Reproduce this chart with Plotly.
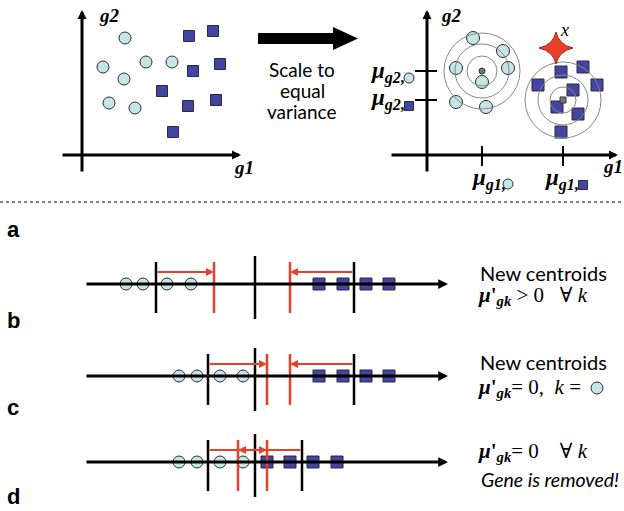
import plotly.graph_objects as go

# ---------------- data ----------------
# panel a, before scaling (left plot)
circ_a_x = [125, 103, 146, 172, 124, 109, 135]
circ_a_y = [38, 67, 62, 62, 79, 103, 108]
sq_a_x = [189, 213, 193, 220, 162, 188, 216, 173]
sq_a_y = [36, 31, 71, 64, 91, 106, 100, 132]
# panel a, after scaling (right plot)
circ_s_x = [473, 503, 456, 508, 482, 456, 486]
circ_s_y = [38, 51, 68, 68, 82, 102, 107]
sq_s_x = [561, 583, 538, 597, 573, 557, 578, 561]
sq_s_y = [72, 67, 85, 85, 90, 107, 114, 132]
centroid_circ = (482, 71)
centroid_sq = (563, 100)
rings_circ = [15, 27, 38]
rings_sq = [13, 25, 38]
star_xy = (556, 48)

# panels b, c, d (1-D gene axis)
row_y = [284, 376, 462]
row_circ = [[126, 143, 167, 191], [179, 197, 220, 243], [179, 197, 220, 243]]
row_sq = [[319, 343, 366, 389], [319, 343, 366, 389], [267, 290, 313, 337]]
row_black = [[156, 255, 354], [208, 255, 354], [208, 255, 302]]
row_red = [[214, 290], [267, 290], [238, 267]]
row_arrows = [[(156, 214), (354, 290)], [(208, 267), (354, 290)], [(208, 267), (302, 238)]]
panel_labels = ["a", "b", "c", "d"]
panel_label_y = [229, 320, 407, 496]

CIRC_FILL = "#c6e6e6"
SQ_FILL = "#4444a4"
EDGE = "#2a2a3a"
RED = "#e8402a"
SERIF = "Liberation Serif, DejaVu Serif, serif"
SANS = "Lato, Open Sans, sans-serif"

fig = go.Figure()
shapes = []
ann = []


def arrow(x0, y0, x1, y1, color="black", width=3, size=0.6):
    ann.append(dict(x=x1, y=y1, ax=x0, ay=y0, xref="x", yref="y", axref="x", ayref="y",
                    text="", showarrow=True, arrowhead=2, arrowsize=size,
                    arrowwidth=width, arrowcolor=color, standoff=0, startstandoff=0))


def line(x0, y0, x1, y1, color="black", width=2, dash=None):
    d = dict(type="line", x0=x0, y0=y0, x1=x1, y1=y1, xref="x", yref="y",
             line=dict(color=color, width=width))
    if dash:
        d["line"]["dash"] = dash
    shapes.append(d)


def text(x, y, s, size=16, family=SANS, color="black", xanchor="left", yanchor="middle"):
    ann.append(dict(x=x, y=y, xref="x", yref="y", text=s, showarrow=False,
                    font=dict(size=size, family=family, color=color),
                    xanchor=xanchor, yanchor=yanchor))


def circles(xs, ys, size=12):
    fig.add_trace(go.Scatter(x=xs, y=ys, mode="markers", hoverinfo="skip",
                             marker=dict(symbol="circle", size=size, color=CIRC_FILL,
                                         line=dict(color=EDGE, width=1))))


def squares(xs, ys, size=11):
    fig.add_trace(go.Scatter(x=xs, y=ys, mode="markers", hoverinfo="skip",
                             marker=dict(symbol="square", size=size, color=SQ_FILL,
                                         line=dict(color=EDGE, width=1))))


# ---------- panel a left ----------
arrow(82, 173, 82, 10)
arrow(61, 155, 241, 155)
text(97, 15, "<b><i>g2</i></b>", 19, SERIF)
text(232, 167, "<b><i>g1</i></b>", 19, SERIF)
circles(circ_a_x, circ_a_y)
squares(sq_a_x, sq_a_y)

# big arrow
shapes.append(dict(type="path", xref="x", yref="y",
                   path="M258,33 L333,33 L333,27 L358,38.5 L333,50 L333,44 L258,44 Z",
                   fillcolor="black", line=dict(color="black", width=0)))
text(302, 69, "Scale to", 19, SANS, xanchor="center")
text(302, 90, "equal", 19, SANS, xanchor="center")
text(302, 111, "variance", 19, SANS, xanchor="center")

# ---------- panel a right ----------
arrow(427, 173, 427, 10)
arrow(390, 155, 618, 155)
text(439, 15, "<b><i>g2</i></b>", 19, SERIF)
text(601, 166, "<b><i>g1</i></b>", 19, SERIF)
for r in rings_circ:
    shapes.append(dict(type="circle", xref="x", yref="y",
                       x0=centroid_circ[0] - r, x1=centroid_circ[0] + r,
                       y0=centroid_circ[1] - r, y1=centroid_circ[1] + r,
                       line=dict(color="#888888", width=1)))
for r in rings_sq:
    shapes.append(dict(type="circle", xref="x", yref="y",
                       x0=centroid_sq[0] - r, x1=centroid_sq[0] + r,
                       y0=centroid_sq[1] - r, y1=centroid_sq[1] + r,
                       line=dict(color="#888888", width=1)))
# ticks at centroids
line(415, centroid_circ[1], 437, centroid_circ[1], width=2)
line(415, centroid_sq[1], 437, centroid_sq[1], width=2)
line(centroid_circ[0], 146, centroid_circ[0], 166, width=2)
line(centroid_sq[0], 146, centroid_sq[0], 166, width=2)
circles(circ_s_x, circ_s_y, 13)
squares(sq_s_x, sq_s_y, 12)
fig.add_trace(go.Scatter(x=[centroid_circ[0]], y=[centroid_circ[1]], mode="markers", hoverinfo="skip",
                         marker=dict(symbol="circle", size=6, color="#777777", line=dict(color="#333", width=1))))
fig.add_trace(go.Scatter(x=[centroid_sq[0]], y=[centroid_sq[1]], mode="markers", hoverinfo="skip",
                         marker=dict(symbol="square", size=6, color="#777777", line=dict(color="#333", width=1))))
# star (point x)
sx, sy = star_xy
shapes.append(dict(type="path", xref="x", yref="y",
                   path=(f"M{sx},{sy-16} Q{sx+3},{sy-3} {sx+17},{sy} Q{sx+3},{sy+3} {sx},{sy+16} "
                         f"Q{sx-3},{sy+3} {sx-17},{sy} Q{sx-3},{sy-3} {sx},{sy-16} Z"),
                   fillcolor=RED, line=dict(color="#a82010", width=1)))
text(558, 30, "<i>x</i>", 18, SERIF)

# mu labels
MU_G2 = "<b><i>μ</i></b><sub><b><i>g2,</i></b></sub>"
MU_G1 = "<b><i>μ</i></b><sub><b><i>g1,</i></b></sub>"
text(369, 72, MU_G2, 23, SERIF)
text(369, 99, MU_G2, 23, SERIF)
text(470, 179, MU_G1, 23, SERIF)
text(543, 179, MU_G1, 23, SERIF)
circles([409, 508], [78, 184], 10)
squares([409, 583], [106, 185], 9)

# dotted separator
line(0, 202, 624, 202, color="#555555", width=1.5, dash="dot")

# panel letters
for lab, yy in zip(panel_labels, panel_label_y):
    text(5, yy, f"<b>{lab}</b>", 22, "Liberation Sans, Arial, sans-serif")

# ---------- panels b, c, d ----------
for i, y in enumerate(row_y):
    arrow(85, y, 448, y, width=3, size=0.65)
    for j, bx in enumerate(row_black[i]):
        if j == 1:
            line(bx, y - 28, bx, y + 35, width=2.5)
        else:
            line(bx, y - 22, bx, y + 29, width=2.5)
    for rx in row_red[i]:
        line(rx, y - 22, rx, y + 29, color=RED, width=2.5)
    for (a0, a1) in row_arrows[i]:
        arrow(a0, y - 12, a1, y - 12, color=RED, width=2, size=0.8)
    circles(row_circ[i], [y] * len(row_circ[i]))
    squares(row_sq[i], [y] * len(row_sq[i]), 12)

MU_GK = "<b><i>μ</i>'</b><sub><b><i>gk</i></b></sub>"
text(478, 273, "New centroids", 20, SANS)
text(476, 296, MU_GK + " &gt; 0   ∀ <i>k</i>", 21, SERIF)
text(478, 362, "New centroids", 20, SANS)
text(476, 388, MU_GK + "= 0,  <i>k</i> =", 21, SERIF)
fig.add_trace(go.Scatter(x=[597], y=[388], mode="markers", hoverinfo="skip",
                         marker=dict(symbol="circle", size=12, color=CIRC_FILL,
                                     line=dict(color=EDGE, width=1))))
text(476, 452, MU_GK + "= 0    ∀ <i>k</i>", 21, SERIF)
text(479, 479, "<i>Gene is removed!</i>", 19.5, SANS)

fig.update_layout(
    width=624, height=511, margin=dict(l=0, r=0, t=0, b=0),
    paper_bgcolor="white", plot_bgcolor="white", showlegend=False,
    xaxis=dict(range=[0, 624], visible=False, fixedrange=True),
    yaxis=dict(range=[511, 0], visible=False, fixedrange=True),
    shapes=shapes, annotations=ann,
)
fig.write_html("out.html")
